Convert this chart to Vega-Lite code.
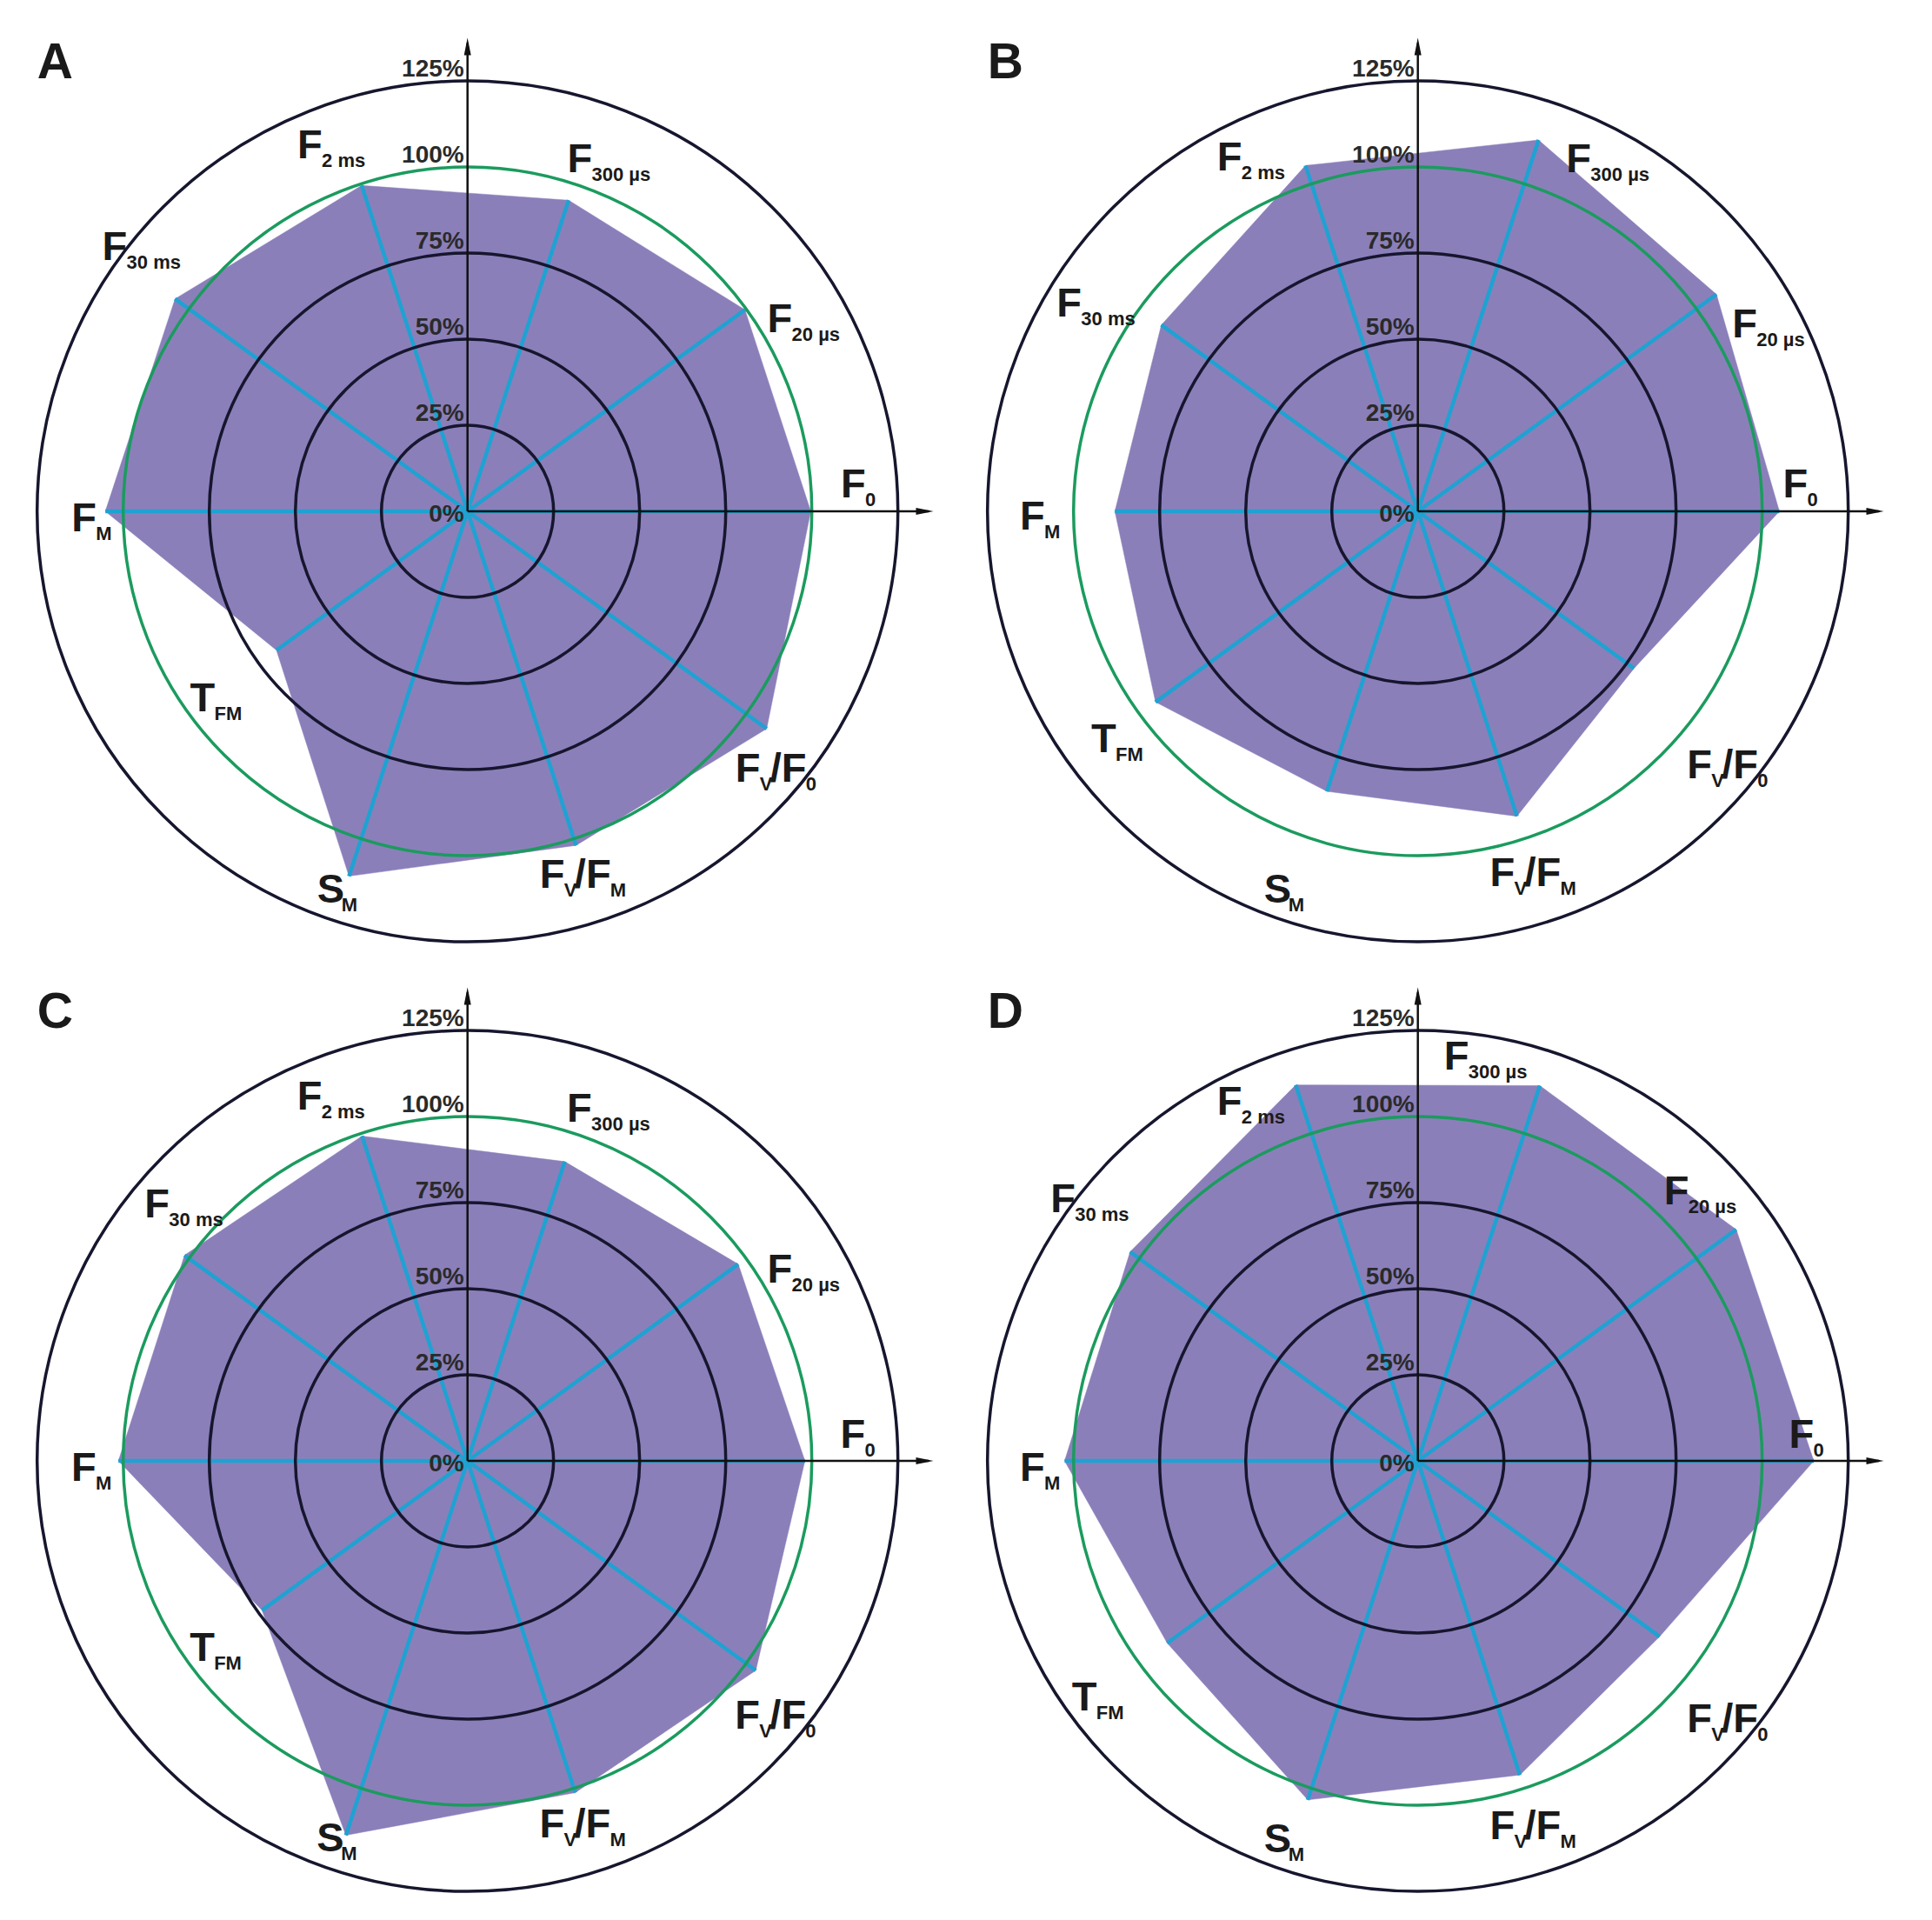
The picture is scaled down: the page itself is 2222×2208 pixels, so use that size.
{
"$schema": "https://vega.github.io/schema/vega-lite/v6.json",
"padding": 0,
"background": "white",
"bounds": "flush",
"spacing": 20,
"columns": 2,
"config": {"view": {"stroke": null}},
"data": {"values": [
{"kind":"v","panel":"A","k":0,"v":99.7},{"kind":"v","panel":"A","k":1,"v":99.6},{"kind":"v","panel":"A","k":2,"v":95},{"kind":"v","panel":"A","k":3,"v":99.5},{"kind":"v","panel":"A","k":4,"v":105},{"kind":"v","panel":"A","k":5,"v":105.2},{"kind":"v","panel":"A","k":6,"v":68.6},{"kind":"v","panel":"A","k":7,"v":111.4},{"kind":"v","panel":"A","k":8,"v":102},{"kind":"v","panel":"A","k":9,"v":107.4},
{"kind":"v","panel":"B","k":0,"v":105},{"kind":"v","panel":"B","k":1,"v":107.2},{"kind":"v","panel":"B","k":2,"v":113.4},{"kind":"v","panel":"B","k":3,"v":105.6},{"kind":"v","panel":"B","k":4,"v":92.1},{"kind":"v","panel":"B","k":5,"v":88},{"kind":"v","panel":"B","k":6,"v":94.2},{"kind":"v","panel":"B","k":7,"v":85.5},{"kind":"v","panel":"B","k":8,"v":93.1},{"kind":"v","panel":"B","k":9,"v":77.6},
{"kind":"v","panel":"C","k":0,"v":98},{"kind":"v","panel":"C","k":1,"v":97.2},{"kind":"v","panel":"C","k":2,"v":91.4},{"kind":"v","panel":"C","k":3,"v":99.2},{"kind":"v","panel":"C","k":4,"v":101.6},{"kind":"v","panel":"C","k":5,"v":101.4},{"kind":"v","panel":"C","k":6,"v":73.8},{"kind":"v","panel":"C","k":7,"v":114.3},{"kind":"v","panel":"C","k":8,"v":101.3},{"kind":"v","panel":"C","k":9,"v":103.5},
{"kind":"v","panel":"D","k":0,"v":115},{"kind":"v","panel":"D","k":1,"v":114.3},{"kind":"v","panel":"D","k":2,"v":114.6},{"kind":"v","panel":"D","k":3,"v":114.8},{"kind":"v","panel":"D","k":4,"v":103.3},{"kind":"v","panel":"D","k":5,"v":102.6},{"kind":"v","panel":"D","k":6,"v":90},{"kind":"v","panel":"D","k":7,"v":103.5},{"kind":"v","panel":"D","k":8,"v":95.9},{"kind":"v","panel":"D","k":9,"v":86.8},
{"kind":"l","panel":"A","k":0,"m1":"F","s1":"0","m2":"","s2":"","lx":108.4,"ly":4.1},
{"kind":"l","panel":"A","k":1,"m1":"F","s1":"20 µs","m2":"","s2":"","lx":87.1,"ly":52.0},
{"kind":"l","panel":"A","k":2,"m1":"F","s1":"300 µs","m2":"","s2":"","lx":29.0,"ly":98.4},
{"kind":"l","panel":"A","k":3,"m1":"F","s1":"2 ms","m2":"","s2":"","lx":-49.4,"ly":102.5},
{"kind":"l","panel":"A","k":4,"m1":"F","s1":"30 ms","m2":"","s2":"","lx":-106.1,"ly":72.9},
{"kind":"l","panel":"A","k":5,"m1":"F","s1":"M","m2":"","s2":"","lx":-115,"ly":-5.7},
{"kind":"l","panel":"A","k":6,"m1":"T","s1":"FM","m2":"","s2":"","lx":-80.6,"ly":-58},
{"kind":"l","panel":"A","k":7,"m1":"S","s1":"M","m2":"","s2":"","lx":-43.7,"ly":-113.5},
{"kind":"l","panel":"A","k":8,"m1":"F","s1":"V","m2":"/F","s2":"M","lx":21.0,"ly":-109.4},
{"kind":"l","panel":"A","k":9,"m1":"F","s1":"V","m2":"/F","s2":"0","lx":77.8,"ly":-78.4},
{"kind":"l","panel":"B","k":0,"m1":"F","s1":"0","m2":"","s2":"","lx":106.0,"ly":4.1},
{"kind":"l","panel":"B","k":1,"m1":"F","s1":"20 µs","m2":"","s2":"","lx":91.3,"ly":50.5},
{"kind":"l","panel":"B","k":2,"m1":"F","s1":"300 µs","m2":"","s2":"","lx":43.1,"ly":98.4},
{"kind":"l","panel":"B","k":3,"m1":"F","s1":"2 ms","m2":"","s2":"","lx":-58.3,"ly":98.9},
{"kind":"l","panel":"B","k":4,"m1":"F","s1":"30 ms","m2":"","s2":"","lx":-104.9,"ly":56.7},
{"kind":"l","panel":"B","k":5,"m1":"F","s1":"M","m2":"","s2":"","lx":-115.6,"ly":-5.3},
{"kind":"l","panel":"B","k":6,"m1":"T","s1":"FM","m2":"","s2":"","lx":-94.9,"ly":-69.9},
{"kind":"l","panel":"B","k":7,"m1":"S","s1":"M","m2":"","s2":"","lx":-44.7,"ly":-113.5},
{"kind":"l","panel":"B","k":8,"m1":"F","s1":"V","m2":"/F","s2":"M","lx":20.9,"ly":-108.9},
{"kind":"l","panel":"B","k":9,"m1":"F","s1":"V","m2":"/F","s2":"0","lx":78.2,"ly":-77.5},
{"kind":"l","panel":"C","k":0,"m1":"F","s1":"0","m2":"","s2":"","lx":108.3,"ly":3.7},
{"kind":"l","panel":"C","k":1,"m1":"F","s1":"20 µs","m2":"","s2":"","lx":87.1,"ly":51.9},
{"kind":"l","panel":"C","k":2,"m1":"F","s1":"300 µs","m2":"","s2":"","lx":28.9,"ly":98.6},
{"kind":"l","panel":"C","k":3,"m1":"F","s1":"2 ms","m2":"","s2":"","lx":-49.5,"ly":102.1},
{"kind":"l","panel":"C","k":4,"m1":"F","s1":"30 ms","m2":"","s2":"","lx":-93.8,"ly":70.6},
{"kind":"l","panel":"C","k":5,"m1":"F","s1":"M","m2":"","s2":"","lx":-115.1,"ly":-5.7},
{"kind":"l","panel":"C","k":6,"m1":"T","s1":"FM","m2":"","s2":"","lx":-80.7,"ly":-58},
{"kind":"l","panel":"C","k":7,"m1":"S","s1":"M","m2":"","s2":"","lx":-43.8,"ly":-113.3},
{"kind":"l","panel":"C","k":8,"m1":"F","s1":"V","m2":"/F","s2":"M","lx":20.9,"ly":-109.4},
{"kind":"l","panel":"C","k":9,"m1":"F","s1":"V","m2":"/F","s2":"0","lx":77.7,"ly":-77.8},
{"kind":"l","panel":"D","k":0,"m1":"F","s1":"0","m2":"","s2":"","lx":107.8,"ly":3.7},
{"kind":"l","panel":"D","k":1,"m1":"F","s1":"20 µs","m2":"","s2":"","lx":71.5,"ly":74.6},
{"kind":"l","panel":"D","k":2,"m1":"F","s1":"300 µs","m2":"","s2":"","lx":7.6,"ly":113.7},
{"kind":"l","panel":"D","k":3,"m1":"F","s1":"2 ms","m2":"","s2":"","lx":-58.3,"ly":100.4},
{"kind":"l","panel":"D","k":4,"m1":"F","s1":"30 ms","m2":"","s2":"","lx":-106.7,"ly":72.3},
{"kind":"l","panel":"D","k":5,"m1":"F","s1":"M","m2":"","s2":"","lx":-115.6,"ly":-5.7},
{"kind":"l","panel":"D","k":6,"m1":"T","s1":"FM","m2":"","s2":"","lx":-100.5,"ly":-72.5},
{"kind":"l","panel":"D","k":7,"m1":"S","s1":"M","m2":"","s2":"","lx":-44.7,"ly":-113.5},
{"kind":"l","panel":"D","k":8,"m1":"F","s1":"V","m2":"/F","s2":"M","lx":20.9,"ly":-109.8},
{"kind":"l","panel":"D","k":9,"m1":"F","s1":"V","m2":"/F","s2":"0","lx":78.2,"ly":-78.7},
{"kind":"ring","r":25},{"kind":"ring","r":50},{"kind":"ring","r":75},{"kind":"ring","r":100},{"kind":"ring","r":125},
{"kind":"tick","r":0,"t":"0%"},{"kind":"tick","r":25,"t":"25%"},{"kind":"tick","r":50,"t":"50%"},{"kind":"tick","r":75,"t":"75%"},{"kind":"tick","r":100,"t":"100%"},{"kind":"tick","r":125,"t":"125%"},
{"kind":"p","panel":"A","letter":"A"},{"kind":"p","panel":"B","letter":"B"},{"kind":"p","panel":"C","letter":"C"},{"kind":"p","panel":"D","letter":"D"}
]},
"concat": [
{"width": 1073, "height": 1071.4,
 "transform": [{"filter": "datum.panel == 'A' || datum.panel == null"}],
 "layer": [
{"transform": [{"filter": "datum.kind == 'v'"}, {"calculate": "datum.v*cos(datum.k*PI/5)", "as": "x"}, {"calculate": "datum.v*sin(datum.k*PI/5)", "as": "y"}],
 "mark": {"type": "line", "interpolate": "linear-closed", "fill": "#8b7fba", "stroke": "#8b7fba", "strokeWidth": 0.5},
 "encoding": {"x": {"field": "x", "type": "quantitative", "scale": {"domain": [-135.8, 135.2], "nice": false, "zero": false}, "axis": null}, "y": {"field": "y", "type": "quantitative", "scale": {"domain": [-122.06, 148.5], "nice": false, "zero": false}, "axis": null}, "order": {"field": "k", "type": "quantitative"}}},
{"transform": [{"filter": "datum.kind == 'v'"}, {"calculate": "datum.v*cos(datum.k*PI/5)", "as": "x"}, {"calculate": "datum.v*sin(datum.k*PI/5)", "as": "y"}],
 "mark": {"type": "rule", "stroke": "#1fa2d2", "strokeWidth": 4.5},
 "encoding": {"x": {"field": "x", "type": "quantitative"}, "y": {"field": "y", "type": "quantitative"}, "x2": {"datum": 0}, "y2": {"datum": 0}}},
{"transform": [{"filter": "datum.kind == 'ring' && datum.r != 100"}],
 "mark": {"type": "point", "shape": "circle", "filled": false, "stroke": "#16162e", "strokeWidth": 3.5, "opacity": 1},
 "encoding": {"x": {"datum": 0, "type": "quantitative"}, "y": {"datum": 0, "type": "quantitative"}, "size": {"field": "r", "type": "quantitative", "legend": null, "scale": {"type": "pow", "exponent": 2, "domain": [0, 100], "range": [0, 627264], "zero": true, "nice": false}}}},
{"transform": [{"filter": "datum.kind == 'ring' && datum.r == 100"}],
 "mark": {"type": "point", "shape": "circle", "filled": false, "stroke": "#1b9b5e", "strokeWidth": 3.5, "opacity": 1},
 "encoding": {"x": {"datum": 0, "type": "quantitative"}, "y": {"datum": 0, "type": "quantitative"}, "size": {"field": "r", "type": "quantitative", "legend": null, "scale": {"type": "pow", "exponent": 2, "domain": [0, 100], "range": [0, 627264], "zero": true, "nice": false}}}},
{"transform": [{"filter": "datum.kind == 'p'"}], "mark": {"type": "rule", "stroke": "#111111", "strokeWidth": 2.5},
 "encoding": {"x": {"datum": 0, "type": "quantitative"}, "x2": {"datum": 134}, "y": {"datum": 0, "type": "quantitative"}}},
{"transform": [{"filter": "datum.kind == 'p'"}], "mark": {"type": "rule", "stroke": "#111111", "strokeWidth": 2.5},
 "encoding": {"x": {"datum": 0, "type": "quantitative"}, "y": {"datum": 0, "type": "quantitative"}, "y2": {"datum": 136}}},
{"transform": [{"filter": "datum.kind == 'p'"}], "mark": {"type": "point", "shape": "M-1,-0.4L1,0L-1,0.4Z", "filled": true, "color": "#111111", "size": 400, "opacity": 1},
 "encoding": {"x": {"datum": 132.8, "type": "quantitative"}, "y": {"datum": 0, "type": "quantitative"}}},
{"transform": [{"filter": "datum.kind == 'p'"}], "mark": {"type": "point", "shape": "M-0.4,1L0,-1L0.4,1Z", "filled": true, "color": "#111111", "size": 400, "opacity": 1},
 "encoding": {"x": {"datum": 0, "type": "quantitative"}, "y": {"datum": 135, "type": "quantitative"}}},
{"transform": [{"filter": "datum.kind == 'tick' && datum.r > 0"}], "mark": {"type": "text", "align": "right", "baseline": "alphabetic", "dx": -4, "dy": -5, "font": "Liberation Sans", "fontWeight": "bold", "fontSize": 28, "color": "#2a2a2a"},
 "encoding": {"x": {"datum": 0, "type": "quantitative"}, "y": {"field": "r", "type": "quantitative"}, "text": {"field": "t"}}},
{"transform": [{"filter": "datum.kind == 'tick' && datum.r == 0"}], "mark": {"type": "text", "align": "right", "baseline": "alphabetic", "dx": -4, "dy": 12, "font": "Liberation Sans", "fontWeight": "bold", "fontSize": 28, "color": "#2a2a2a"},
 "encoding": {"x": {"datum": 0, "type": "quantitative"}, "y": {"field": "r", "type": "quantitative"}, "text": {"field": "t"}}},
{"transform": [{"filter": "datum.kind == 'l'"}], "mark": {"type": "text", "align": "left", "baseline": "alphabetic", "font": "Liberation Sans", "fontWeight": "bold", "fontSize": 47, "color": "#1a1a1a"},
 "encoding": {"x": {"field": "lx", "type": "quantitative"}, "y": {"field": "ly", "type": "quantitative"}, "text": {"field": "m1"}}},
{"transform": [{"filter": "datum.kind == 'l'"}], "mark": {"type": "text", "align": "left", "baseline": "alphabetic", "dx": 28, "dy": 10, "font": "Liberation Sans", "fontWeight": "bold", "fontSize": 22, "color": "#1a1a1a"},
 "encoding": {"x": {"field": "lx", "type": "quantitative"}, "y": {"field": "ly", "type": "quantitative"}, "text": {"field": "s1"}}},
{"transform": [{"filter": "datum.kind == 'l' && datum.m2 != ''"}], "mark": {"type": "text", "align": "left", "baseline": "alphabetic", "dx": 40, "font": "Liberation Sans", "fontWeight": "bold", "fontSize": 47, "color": "#1a1a1a"},
 "encoding": {"x": {"field": "lx", "type": "quantitative"}, "y": {"field": "ly", "type": "quantitative"}, "text": {"field": "m2"}}},
{"transform": [{"filter": "datum.kind == 'l' && datum.s2 != ''"}], "mark": {"type": "text", "align": "left", "baseline": "alphabetic", "dx": 81, "dy": 10, "font": "Liberation Sans", "fontWeight": "bold", "fontSize": 22, "color": "#1a1a1a"},
 "encoding": {"x": {"field": "lx", "type": "quantitative"}, "y": {"field": "ly", "type": "quantitative"}, "text": {"field": "s2"}}},
{"transform": [{"filter": "datum.kind == 'p'"}], "mark": {"type": "text", "align": "left", "baseline": "alphabetic", "font": "Liberation Sans", "fontWeight": "bold", "fontSize": 57, "color": "#1a1a1a"},
 "encoding": {"x": {"datum": -125, "type": "quantitative"}, "y": {"datum": 125.8, "type": "quantitative"}, "text": {"field": "letter"}}}
 ]},
{"width": 1073, "height": 1071.4,
 "transform": [{"filter": "datum.panel == 'B' || datum.panel == null"}],
 "layer": [
{"transform": [{"filter": "datum.kind == 'v'"}, {"calculate": "datum.v*cos(datum.k*PI/5)", "as": "x"}, {"calculate": "datum.v*sin(datum.k*PI/5)", "as": "y"}],
 "mark": {"type": "line", "interpolate": "linear-closed", "fill": "#8b7fba", "stroke": "#8b7fba", "strokeWidth": 0.5},
 "encoding": {"x": {"field": "x", "type": "quantitative", "scale": {"domain": [-135.8, 135.2], "nice": false, "zero": false}, "axis": null}, "y": {"field": "y", "type": "quantitative", "scale": {"domain": [-122.06, 148.5], "nice": false, "zero": false}, "axis": null}, "order": {"field": "k", "type": "quantitative"}}},
{"transform": [{"filter": "datum.kind == 'v'"}, {"calculate": "datum.v*cos(datum.k*PI/5)", "as": "x"}, {"calculate": "datum.v*sin(datum.k*PI/5)", "as": "y"}],
 "mark": {"type": "rule", "stroke": "#1fa2d2", "strokeWidth": 4.5},
 "encoding": {"x": {"field": "x", "type": "quantitative"}, "y": {"field": "y", "type": "quantitative"}, "x2": {"datum": 0}, "y2": {"datum": 0}}},
{"transform": [{"filter": "datum.kind == 'ring' && datum.r != 100"}],
 "mark": {"type": "point", "shape": "circle", "filled": false, "stroke": "#16162e", "strokeWidth": 3.5, "opacity": 1},
 "encoding": {"x": {"datum": 0, "type": "quantitative"}, "y": {"datum": 0, "type": "quantitative"}, "size": {"field": "r", "type": "quantitative", "legend": null, "scale": {"type": "pow", "exponent": 2, "domain": [0, 100], "range": [0, 627264], "zero": true, "nice": false}}}},
{"transform": [{"filter": "datum.kind == 'ring' && datum.r == 100"}],
 "mark": {"type": "point", "shape": "circle", "filled": false, "stroke": "#1b9b5e", "strokeWidth": 3.5, "opacity": 1},
 "encoding": {"x": {"datum": 0, "type": "quantitative"}, "y": {"datum": 0, "type": "quantitative"}, "size": {"field": "r", "type": "quantitative", "legend": null, "scale": {"type": "pow", "exponent": 2, "domain": [0, 100], "range": [0, 627264], "zero": true, "nice": false}}}},
{"transform": [{"filter": "datum.kind == 'p'"}], "mark": {"type": "rule", "stroke": "#111111", "strokeWidth": 2.5},
 "encoding": {"x": {"datum": 0, "type": "quantitative"}, "x2": {"datum": 134}, "y": {"datum": 0, "type": "quantitative"}}},
{"transform": [{"filter": "datum.kind == 'p'"}], "mark": {"type": "rule", "stroke": "#111111", "strokeWidth": 2.5},
 "encoding": {"x": {"datum": 0, "type": "quantitative"}, "y": {"datum": 0, "type": "quantitative"}, "y2": {"datum": 136}}},
{"transform": [{"filter": "datum.kind == 'p'"}], "mark": {"type": "point", "shape": "M-1,-0.4L1,0L-1,0.4Z", "filled": true, "color": "#111111", "size": 400, "opacity": 1},
 "encoding": {"x": {"datum": 132.8, "type": "quantitative"}, "y": {"datum": 0, "type": "quantitative"}}},
{"transform": [{"filter": "datum.kind == 'p'"}], "mark": {"type": "point", "shape": "M-0.4,1L0,-1L0.4,1Z", "filled": true, "color": "#111111", "size": 400, "opacity": 1},
 "encoding": {"x": {"datum": 0, "type": "quantitative"}, "y": {"datum": 135, "type": "quantitative"}}},
{"transform": [{"filter": "datum.kind == 'tick' && datum.r > 0"}], "mark": {"type": "text", "align": "right", "baseline": "alphabetic", "dx": -4, "dy": -5, "font": "Liberation Sans", "fontWeight": "bold", "fontSize": 28, "color": "#2a2a2a"},
 "encoding": {"x": {"datum": 0, "type": "quantitative"}, "y": {"field": "r", "type": "quantitative"}, "text": {"field": "t"}}},
{"transform": [{"filter": "datum.kind == 'tick' && datum.r == 0"}], "mark": {"type": "text", "align": "right", "baseline": "alphabetic", "dx": -4, "dy": 12, "font": "Liberation Sans", "fontWeight": "bold", "fontSize": 28, "color": "#2a2a2a"},
 "encoding": {"x": {"datum": 0, "type": "quantitative"}, "y": {"field": "r", "type": "quantitative"}, "text": {"field": "t"}}},
{"transform": [{"filter": "datum.kind == 'l'"}], "mark": {"type": "text", "align": "left", "baseline": "alphabetic", "font": "Liberation Sans", "fontWeight": "bold", "fontSize": 47, "color": "#1a1a1a"},
 "encoding": {"x": {"field": "lx", "type": "quantitative"}, "y": {"field": "ly", "type": "quantitative"}, "text": {"field": "m1"}}},
{"transform": [{"filter": "datum.kind == 'l'"}], "mark": {"type": "text", "align": "left", "baseline": "alphabetic", "dx": 28, "dy": 10, "font": "Liberation Sans", "fontWeight": "bold", "fontSize": 22, "color": "#1a1a1a"},
 "encoding": {"x": {"field": "lx", "type": "quantitative"}, "y": {"field": "ly", "type": "quantitative"}, "text": {"field": "s1"}}},
{"transform": [{"filter": "datum.kind == 'l' && datum.m2 != ''"}], "mark": {"type": "text", "align": "left", "baseline": "alphabetic", "dx": 40, "font": "Liberation Sans", "fontWeight": "bold", "fontSize": 47, "color": "#1a1a1a"},
 "encoding": {"x": {"field": "lx", "type": "quantitative"}, "y": {"field": "ly", "type": "quantitative"}, "text": {"field": "m2"}}},
{"transform": [{"filter": "datum.kind == 'l' && datum.s2 != ''"}], "mark": {"type": "text", "align": "left", "baseline": "alphabetic", "dx": 81, "dy": 10, "font": "Liberation Sans", "fontWeight": "bold", "fontSize": 22, "color": "#1a1a1a"},
 "encoding": {"x": {"field": "lx", "type": "quantitative"}, "y": {"field": "ly", "type": "quantitative"}, "text": {"field": "s2"}}},
{"transform": [{"filter": "datum.kind == 'p'"}], "mark": {"type": "text", "align": "left", "baseline": "alphabetic", "font": "Liberation Sans", "fontWeight": "bold", "fontSize": 57, "color": "#1a1a1a"},
 "encoding": {"x": {"datum": -125, "type": "quantitative"}, "y": {"datum": 125.8, "type": "quantitative"}, "text": {"field": "letter"}}}
 ]},
{"width": 1073, "height": 1071.4,
 "transform": [{"filter": "datum.panel == 'C' || datum.panel == null"}],
 "layer": [
{"transform": [{"filter": "datum.kind == 'v'"}, {"calculate": "datum.v*cos(datum.k*PI/5)", "as": "x"}, {"calculate": "datum.v*sin(datum.k*PI/5)", "as": "y"}],
 "mark": {"type": "line", "interpolate": "linear-closed", "fill": "#8b7fba", "stroke": "#8b7fba", "strokeWidth": 0.5},
 "encoding": {"x": {"field": "x", "type": "quantitative", "scale": {"domain": [-135.8, 135.2], "nice": false, "zero": false}, "axis": null}, "y": {"field": "y", "type": "quantitative", "scale": {"domain": [-122.06, 148.5], "nice": false, "zero": false}, "axis": null}, "order": {"field": "k", "type": "quantitative"}}},
{"transform": [{"filter": "datum.kind == 'v'"}, {"calculate": "datum.v*cos(datum.k*PI/5)", "as": "x"}, {"calculate": "datum.v*sin(datum.k*PI/5)", "as": "y"}],
 "mark": {"type": "rule", "stroke": "#1fa2d2", "strokeWidth": 4.5},
 "encoding": {"x": {"field": "x", "type": "quantitative"}, "y": {"field": "y", "type": "quantitative"}, "x2": {"datum": 0}, "y2": {"datum": 0}}},
{"transform": [{"filter": "datum.kind == 'ring' && datum.r != 100"}],
 "mark": {"type": "point", "shape": "circle", "filled": false, "stroke": "#16162e", "strokeWidth": 3.5, "opacity": 1},
 "encoding": {"x": {"datum": 0, "type": "quantitative"}, "y": {"datum": 0, "type": "quantitative"}, "size": {"field": "r", "type": "quantitative", "legend": null, "scale": {"type": "pow", "exponent": 2, "domain": [0, 100], "range": [0, 627264], "zero": true, "nice": false}}}},
{"transform": [{"filter": "datum.kind == 'ring' && datum.r == 100"}],
 "mark": {"type": "point", "shape": "circle", "filled": false, "stroke": "#1b9b5e", "strokeWidth": 3.5, "opacity": 1},
 "encoding": {"x": {"datum": 0, "type": "quantitative"}, "y": {"datum": 0, "type": "quantitative"}, "size": {"field": "r", "type": "quantitative", "legend": null, "scale": {"type": "pow", "exponent": 2, "domain": [0, 100], "range": [0, 627264], "zero": true, "nice": false}}}},
{"transform": [{"filter": "datum.kind == 'p'"}], "mark": {"type": "rule", "stroke": "#111111", "strokeWidth": 2.5},
 "encoding": {"x": {"datum": 0, "type": "quantitative"}, "x2": {"datum": 134}, "y": {"datum": 0, "type": "quantitative"}}},
{"transform": [{"filter": "datum.kind == 'p'"}], "mark": {"type": "rule", "stroke": "#111111", "strokeWidth": 2.5},
 "encoding": {"x": {"datum": 0, "type": "quantitative"}, "y": {"datum": 0, "type": "quantitative"}, "y2": {"datum": 136}}},
{"transform": [{"filter": "datum.kind == 'p'"}], "mark": {"type": "point", "shape": "M-1,-0.4L1,0L-1,0.4Z", "filled": true, "color": "#111111", "size": 400, "opacity": 1},
 "encoding": {"x": {"datum": 132.8, "type": "quantitative"}, "y": {"datum": 0, "type": "quantitative"}}},
{"transform": [{"filter": "datum.kind == 'p'"}], "mark": {"type": "point", "shape": "M-0.4,1L0,-1L0.4,1Z", "filled": true, "color": "#111111", "size": 400, "opacity": 1},
 "encoding": {"x": {"datum": 0, "type": "quantitative"}, "y": {"datum": 135, "type": "quantitative"}}},
{"transform": [{"filter": "datum.kind == 'tick' && datum.r > 0"}], "mark": {"type": "text", "align": "right", "baseline": "alphabetic", "dx": -4, "dy": -5, "font": "Liberation Sans", "fontWeight": "bold", "fontSize": 28, "color": "#2a2a2a"},
 "encoding": {"x": {"datum": 0, "type": "quantitative"}, "y": {"field": "r", "type": "quantitative"}, "text": {"field": "t"}}},
{"transform": [{"filter": "datum.kind == 'tick' && datum.r == 0"}], "mark": {"type": "text", "align": "right", "baseline": "alphabetic", "dx": -4, "dy": 12, "font": "Liberation Sans", "fontWeight": "bold", "fontSize": 28, "color": "#2a2a2a"},
 "encoding": {"x": {"datum": 0, "type": "quantitative"}, "y": {"field": "r", "type": "quantitative"}, "text": {"field": "t"}}},
{"transform": [{"filter": "datum.kind == 'l'"}], "mark": {"type": "text", "align": "left", "baseline": "alphabetic", "font": "Liberation Sans", "fontWeight": "bold", "fontSize": 47, "color": "#1a1a1a"},
 "encoding": {"x": {"field": "lx", "type": "quantitative"}, "y": {"field": "ly", "type": "quantitative"}, "text": {"field": "m1"}}},
{"transform": [{"filter": "datum.kind == 'l'"}], "mark": {"type": "text", "align": "left", "baseline": "alphabetic", "dx": 28, "dy": 10, "font": "Liberation Sans", "fontWeight": "bold", "fontSize": 22, "color": "#1a1a1a"},
 "encoding": {"x": {"field": "lx", "type": "quantitative"}, "y": {"field": "ly", "type": "quantitative"}, "text": {"field": "s1"}}},
{"transform": [{"filter": "datum.kind == 'l' && datum.m2 != ''"}], "mark": {"type": "text", "align": "left", "baseline": "alphabetic", "dx": 40, "font": "Liberation Sans", "fontWeight": "bold", "fontSize": 47, "color": "#1a1a1a"},
 "encoding": {"x": {"field": "lx", "type": "quantitative"}, "y": {"field": "ly", "type": "quantitative"}, "text": {"field": "m2"}}},
{"transform": [{"filter": "datum.kind == 'l' && datum.s2 != ''"}], "mark": {"type": "text", "align": "left", "baseline": "alphabetic", "dx": 81, "dy": 10, "font": "Liberation Sans", "fontWeight": "bold", "fontSize": 22, "color": "#1a1a1a"},
 "encoding": {"x": {"field": "lx", "type": "quantitative"}, "y": {"field": "ly", "type": "quantitative"}, "text": {"field": "s2"}}},
{"transform": [{"filter": "datum.kind == 'p'"}], "mark": {"type": "text", "align": "left", "baseline": "alphabetic", "font": "Liberation Sans", "fontWeight": "bold", "fontSize": 57, "color": "#1a1a1a"},
 "encoding": {"x": {"datum": -125, "type": "quantitative"}, "y": {"datum": 125.8, "type": "quantitative"}, "text": {"field": "letter"}}}
 ]},
{"width": 1073, "height": 1071.4,
 "transform": [{"filter": "datum.panel == 'D' || datum.panel == null"}],
 "layer": [
{"transform": [{"filter": "datum.kind == 'v'"}, {"calculate": "datum.v*cos(datum.k*PI/5)", "as": "x"}, {"calculate": "datum.v*sin(datum.k*PI/5)", "as": "y"}],
 "mark": {"type": "line", "interpolate": "linear-closed", "fill": "#8b7fba", "stroke": "#8b7fba", "strokeWidth": 0.5},
 "encoding": {"x": {"field": "x", "type": "quantitative", "scale": {"domain": [-135.8, 135.2], "nice": false, "zero": false}, "axis": null}, "y": {"field": "y", "type": "quantitative", "scale": {"domain": [-122.06, 148.5], "nice": false, "zero": false}, "axis": null}, "order": {"field": "k", "type": "quantitative"}}},
{"transform": [{"filter": "datum.kind == 'v'"}, {"calculate": "datum.v*cos(datum.k*PI/5)", "as": "x"}, {"calculate": "datum.v*sin(datum.k*PI/5)", "as": "y"}],
 "mark": {"type": "rule", "stroke": "#1fa2d2", "strokeWidth": 4.5},
 "encoding": {"x": {"field": "x", "type": "quantitative"}, "y": {"field": "y", "type": "quantitative"}, "x2": {"datum": 0}, "y2": {"datum": 0}}},
{"transform": [{"filter": "datum.kind == 'ring' && datum.r != 100"}],
 "mark": {"type": "point", "shape": "circle", "filled": false, "stroke": "#16162e", "strokeWidth": 3.5, "opacity": 1},
 "encoding": {"x": {"datum": 0, "type": "quantitative"}, "y": {"datum": 0, "type": "quantitative"}, "size": {"field": "r", "type": "quantitative", "legend": null, "scale": {"type": "pow", "exponent": 2, "domain": [0, 100], "range": [0, 627264], "zero": true, "nice": false}}}},
{"transform": [{"filter": "datum.kind == 'ring' && datum.r == 100"}],
 "mark": {"type": "point", "shape": "circle", "filled": false, "stroke": "#1b9b5e", "strokeWidth": 3.5, "opacity": 1},
 "encoding": {"x": {"datum": 0, "type": "quantitative"}, "y": {"datum": 0, "type": "quantitative"}, "size": {"field": "r", "type": "quantitative", "legend": null, "scale": {"type": "pow", "exponent": 2, "domain": [0, 100], "range": [0, 627264], "zero": true, "nice": false}}}},
{"transform": [{"filter": "datum.kind == 'p'"}], "mark": {"type": "rule", "stroke": "#111111", "strokeWidth": 2.5},
 "encoding": {"x": {"datum": 0, "type": "quantitative"}, "x2": {"datum": 134}, "y": {"datum": 0, "type": "quantitative"}}},
{"transform": [{"filter": "datum.kind == 'p'"}], "mark": {"type": "rule", "stroke": "#111111", "strokeWidth": 2.5},
 "encoding": {"x": {"datum": 0, "type": "quantitative"}, "y": {"datum": 0, "type": "quantitative"}, "y2": {"datum": 136}}},
{"transform": [{"filter": "datum.kind == 'p'"}], "mark": {"type": "point", "shape": "M-1,-0.4L1,0L-1,0.4Z", "filled": true, "color": "#111111", "size": 400, "opacity": 1},
 "encoding": {"x": {"datum": 132.8, "type": "quantitative"}, "y": {"datum": 0, "type": "quantitative"}}},
{"transform": [{"filter": "datum.kind == 'p'"}], "mark": {"type": "point", "shape": "M-0.4,1L0,-1L0.4,1Z", "filled": true, "color": "#111111", "size": 400, "opacity": 1},
 "encoding": {"x": {"datum": 0, "type": "quantitative"}, "y": {"datum": 135, "type": "quantitative"}}},
{"transform": [{"filter": "datum.kind == 'tick' && datum.r > 0"}], "mark": {"type": "text", "align": "right", "baseline": "alphabetic", "dx": -4, "dy": -5, "font": "Liberation Sans", "fontWeight": "bold", "fontSize": 28, "color": "#2a2a2a"},
 "encoding": {"x": {"datum": 0, "type": "quantitative"}, "y": {"field": "r", "type": "quantitative"}, "text": {"field": "t"}}},
{"transform": [{"filter": "datum.kind == 'tick' && datum.r == 0"}], "mark": {"type": "text", "align": "right", "baseline": "alphabetic", "dx": -4, "dy": 12, "font": "Liberation Sans", "fontWeight": "bold", "fontSize": 28, "color": "#2a2a2a"},
 "encoding": {"x": {"datum": 0, "type": "quantitative"}, "y": {"field": "r", "type": "quantitative"}, "text": {"field": "t"}}},
{"transform": [{"filter": "datum.kind == 'l'"}], "mark": {"type": "text", "align": "left", "baseline": "alphabetic", "font": "Liberation Sans", "fontWeight": "bold", "fontSize": 47, "color": "#1a1a1a"},
 "encoding": {"x": {"field": "lx", "type": "quantitative"}, "y": {"field": "ly", "type": "quantitative"}, "text": {"field": "m1"}}},
{"transform": [{"filter": "datum.kind == 'l'"}], "mark": {"type": "text", "align": "left", "baseline": "alphabetic", "dx": 28, "dy": 10, "font": "Liberation Sans", "fontWeight": "bold", "fontSize": 22, "color": "#1a1a1a"},
 "encoding": {"x": {"field": "lx", "type": "quantitative"}, "y": {"field": "ly", "type": "quantitative"}, "text": {"field": "s1"}}},
{"transform": [{"filter": "datum.kind == 'l' && datum.m2 != ''"}], "mark": {"type": "text", "align": "left", "baseline": "alphabetic", "dx": 40, "font": "Liberation Sans", "fontWeight": "bold", "fontSize": 47, "color": "#1a1a1a"},
 "encoding": {"x": {"field": "lx", "type": "quantitative"}, "y": {"field": "ly", "type": "quantitative"}, "text": {"field": "m2"}}},
{"transform": [{"filter": "datum.kind == 'l' && datum.s2 != ''"}], "mark": {"type": "text", "align": "left", "baseline": "alphabetic", "dx": 81, "dy": 10, "font": "Liberation Sans", "fontWeight": "bold", "fontSize": 22, "color": "#1a1a1a"},
 "encoding": {"x": {"field": "lx", "type": "quantitative"}, "y": {"field": "ly", "type": "quantitative"}, "text": {"field": "s2"}}},
{"transform": [{"filter": "datum.kind == 'p'"}], "mark": {"type": "text", "align": "left", "baseline": "alphabetic", "font": "Liberation Sans", "fontWeight": "bold", "fontSize": 57, "color": "#1a1a1a"},
 "encoding": {"x": {"datum": -125, "type": "quantitative"}, "y": {"datum": 125.8, "type": "quantitative"}, "text": {"field": "letter"}}}
 ]}
]
}
